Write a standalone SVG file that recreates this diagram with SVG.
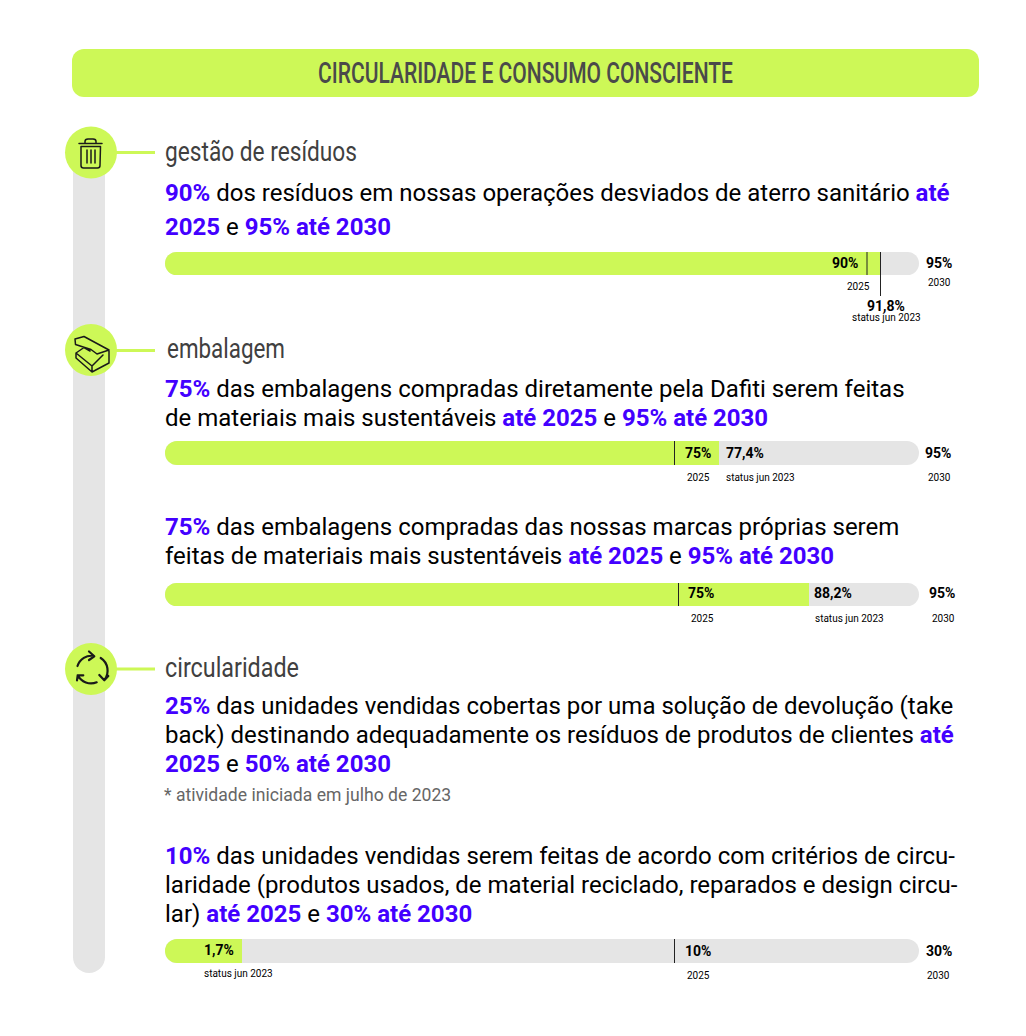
<svg xmlns="http://www.w3.org/2000/svg" width="1026" height="1036" viewBox="0 0 1026 1036">
<style>
text{font-family:Roboto,"Liberation Sans",sans-serif}
.b{font-size:24px;fill:#000}
.p{font-weight:700;fill:#4300ff}
.h{font-size:27px;fill:#404040;font-weight:400}
.v{font-size:14px;font-weight:700;fill:#000}
.s{font-size:10px;fill:#000}
.g{fill:#e5e5e5}
.l{fill:#cdf857}
.m{stroke:#222;stroke-width:1}
.c{stroke:#cdf857;stroke-width:3;fill:none}
.i{fill:none;stroke:#1a1a1a;stroke-width:1.5;stroke-linejoin:round;stroke-linecap:round}
.r{stroke-width:2.200}
</style>
<rect id="spine" class="g" x="73" y="150" width="32" height="823" rx="16"/>
<g id="title"><rect class="l" x="72" y="49" width="907" height="48" rx="12"/>
<text x="318" y="83" font-size="29" font-weight="500" fill="#4a4a4a" textLength="415" lengthAdjust="spacingAndGlyphs">CIRCULARIDADE E CONSUMO CONSCIENTE</text></g>
<g id="connectors">
<path class="c" d="M115 152.500H155M115 350.500H155M115 669H155"/>
</g>
<g id="node-residuos">
<circle class="l" cx="91" cy="152.500" r="26"/>
<g class="i"><path d="M79 143.500H102M85 143.500V141.500Q85 139 88 139H93Q96 139 96 141.500V143.500M81 146.500H100.500L100 165.500Q100 168 97.500 168H83.500Q81 168 81 165.500Z"/><path d="M87 150V163M91 150V163M95 150V163"/></g>
<text class="h" x="165" y="161" textLength="192" lengthAdjust="spacingAndGlyphs">gestão de resíduos</text>
<text class="b" x="165" y="201"><tspan class="p">90%</tspan> dos resíduos em nossas operações desviados de aterro sanitário <tspan class="p">até</tspan></text>
<text class="b" x="165" y="235"><tspan class="p">2025</tspan> e <tspan class="p">95% até 2030</tspan></text>
<rect class="g" x="165" y="252" width="754" height="23" rx="11.500"/>
<path class="l" d="M176.500 252H880V275H176.500A11.500 11.500 0 0 1 176.500 252Z"/>
<path class="m" d="M867 252V275M880.500 252V296"/>
<text class="v" x="832" y="268">90%</text><text class="v" x="926" y="268">95%</text>
<text class="s" x="847" y="290">2025</text><text class="s" x="928" y="286">2030</text>
<text class="v" x="867" y="311">91,8%</text><text class="s" x="852" y="321">status jun 2023</text>
</g>
<g id="node-embalagem">
<circle class="l" cx="91" cy="350" r="26"/>
<g class="i"><path d="M75 339L84 336.500L109 350L97 354L91 349.500L75.500 344.500ZM76 353L84 347.500L90 351M76 353V358L92 372L109 363V351M76 353L92 366L103 355M92 366V372"/></g>
<text class="h" x="167" y="358" textLength="118" lengthAdjust="spacingAndGlyphs">embalagem</text>
<text class="b" x="165" y="397"><tspan class="p">75%</tspan> das embalagens compradas diretamente pela Dafiti serem feitas</text>
<text class="b" x="165" y="426">de materiais mais sustentáveis <tspan class="p">até 2025</tspan> e <tspan class="p">95% até 2030</tspan></text>
<rect class="g" x="165" y="441" width="754" height="24" rx="12"/>
<path class="l" d="M177 441H719V465H177A12 12 0 0 1 177 441Z"/>
<path class="m" d="M674.500 441V465"/>
<text class="v" x="685" y="458">75%</text><text class="v" x="726" y="458">77,4%</text><text class="v" x="925" y="458">95%</text>
<text class="s" x="687" y="481">2025</text><text class="s" x="726" y="481">status jun 2023</text><text class="s" x="928" y="481">2030</text>
<text class="b" x="165" y="535"><tspan class="p">75%</tspan> das embalagens compradas das nossas marcas próprias serem</text>
<text class="b" x="165" y="564">feitas de materiais mais sustentáveis <tspan class="p">até 2025</tspan> e <tspan class="p">95% até 2030</tspan></text>
<rect class="g" x="165" y="583" width="754" height="23" rx="11.500"/>
<path class="l" d="M176.500 583H809V606H176.500A11.500 11.500 0 0 1 176.500 583Z"/>
<path class="m" d="M678.500 583V606"/>
<text class="v" x="688" y="598">75%</text><text class="v" x="814" y="598">88,2%</text><text class="v" x="929" y="598">95%</text>
<text class="s" x="691" y="622">2025</text><text class="s" x="815" y="622">status jun 2023</text><text class="s" x="932" y="622">2030</text>
</g>
<g id="node-circularidade">
<circle class="l" cx="91" cy="669" r="26"/>
<g class="i r"><path d="M77.500 666A14.500 14.500 0 0 1 94 656M89 651.500L94.300 656.300L89 660M100.700 658A15 15 0 0 1 104.300 680M99.300 675L104.300 680.300L108.300 676M96.700 682.300A15 15 0 0 1 77.700 675.300M77 680.300L77.700 675.300L83.300 675.300"/></g>
<text class="h" x="165" y="677" textLength="134" lengthAdjust="spacingAndGlyphs">circularidade</text>
<text class="b" x="165" y="714"><tspan class="p">25%</tspan> das unidades vendidas cobertas por uma solução de devolução (take</text>
<text class="b" x="165" y="743">back) destinando adequadamente os resíduos de produtos de clientes <tspan class="p">até</tspan></text>
<text class="b" x="165" y="772"><tspan class="p">2025</tspan> e <tspan class="p">50% até 2030</tspan></text>
<text x="164" y="801" font-size="17.600" fill="#666">* atividade iniciada em julho de 2023</text>
<text class="b" x="165" y="864"><tspan class="p">10%</tspan> das unidades vendidas serem feitas de acordo com critérios de circu-</text>
<text class="b" x="165" y="893">laridade (produtos usados, de material reciclado, reparados e design circu-</text>
<text class="b" x="165" y="922">lar) <tspan class="p">até 2025</tspan> e <tspan class="p">30% até 2030</tspan></text>
<rect class="g" x="165" y="939" width="754" height="24" rx="12"/>
<path class="l" d="M177 939H242V963H177A12 12 0 0 1 177 939Z"/>
<path class="m" d="M674.500 939V963"/>
<text class="v" x="204" y="955">1,7%</text><text class="v" x="685" y="956">10%</text><text class="v" x="926" y="956">30%</text>
<text class="s" x="204" y="977">status jun 2023</text><text class="s" x="687" y="979">2025</text><text class="s" x="927" y="979">2030</text>
</g>
</svg>
